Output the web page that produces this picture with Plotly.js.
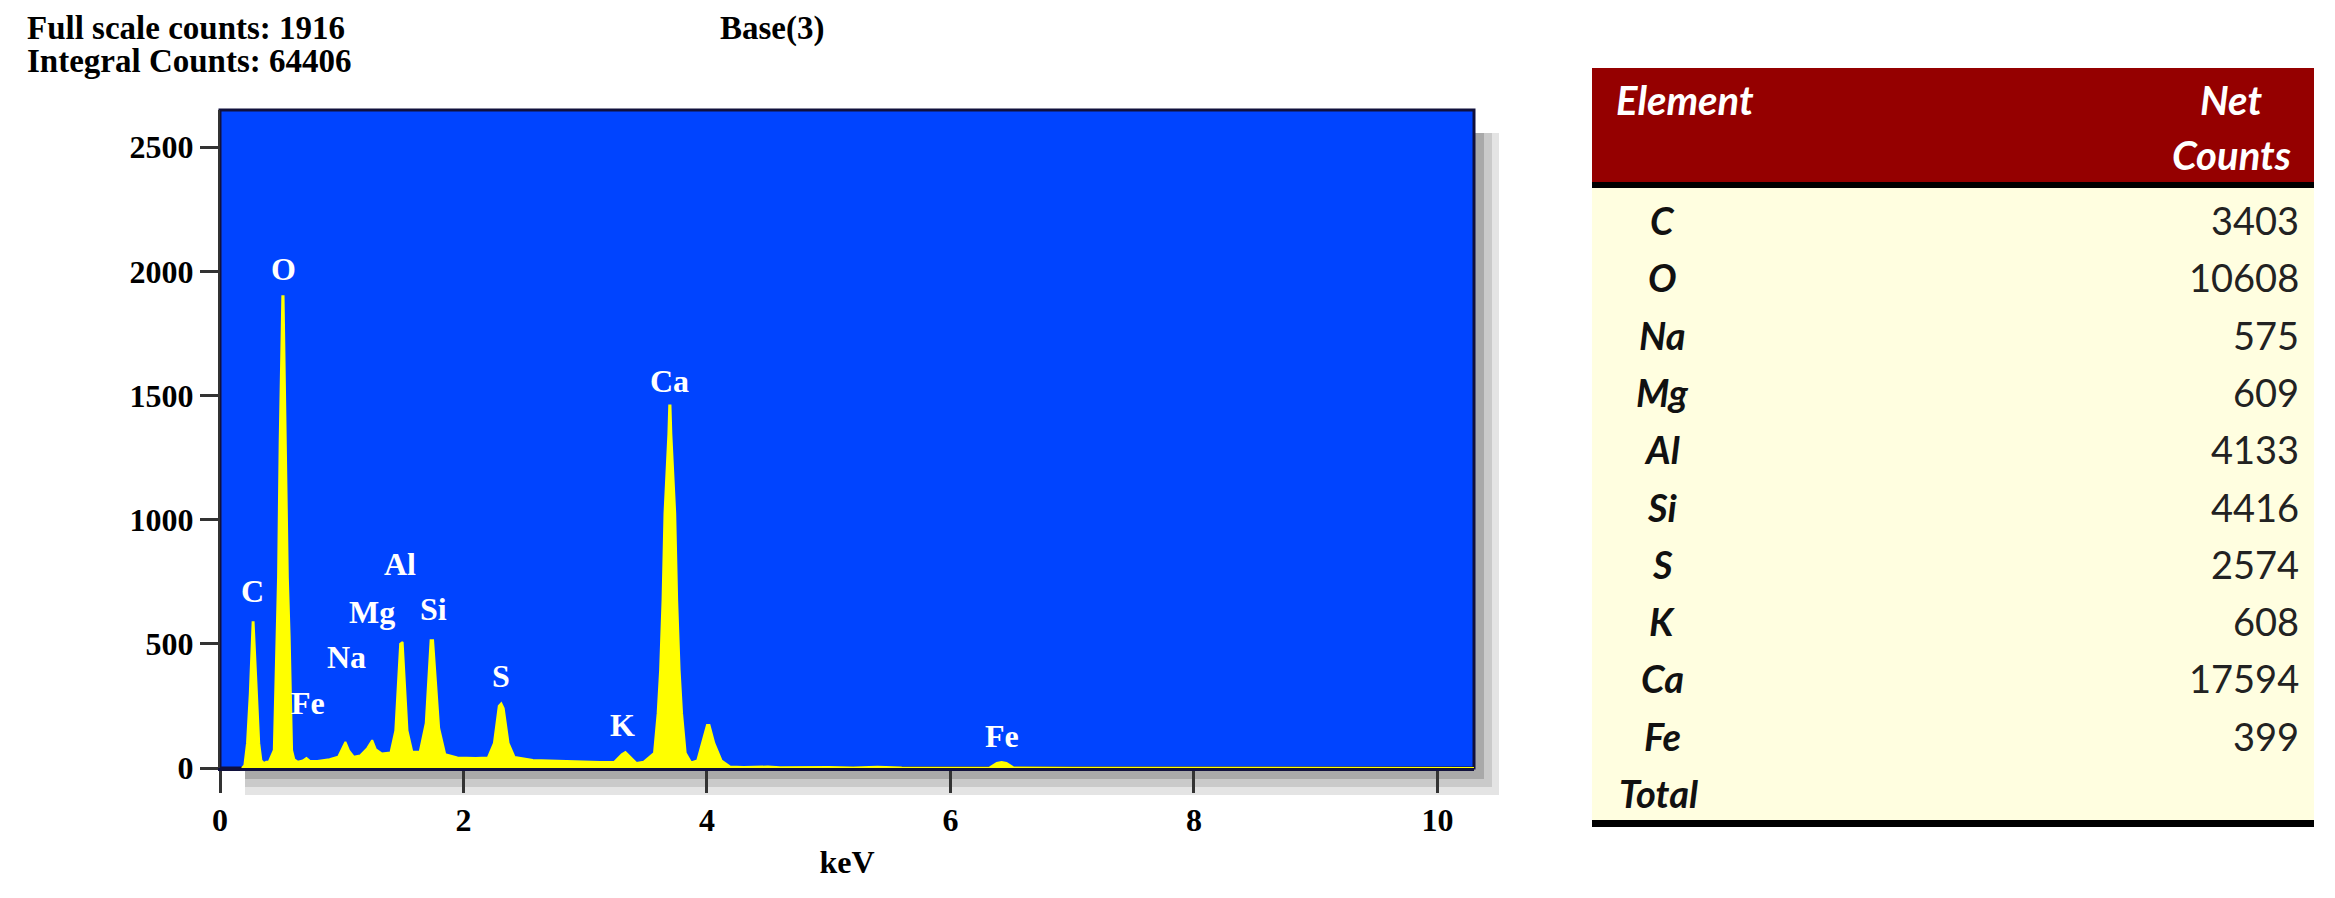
<!DOCTYPE html>
<html>
<head>
<meta charset="utf-8">
<script src="https://cdn.plot.ly/plotly-3.0.1.min.js"></script>
<style>
  html, body { margin: 0; padding: 0; background: #fff; }
  #chart { width: 2335px; height: 898px; }
</style>
</head>
<body>
<div id="chart"></div>
<script>
// spectrum (keV, counts)
const energy = [
  0.18, 0.20, 0.222, 0.245, 0.262, 0.268, 0.276, 0.282, 0.300, 0.322, 0.34, 0.36, 0.38,
  0.40, 0.442, 0.462, 0.477, 0.490, 0.502, 0.512, 0.522, 0.532, 0.545, 0.557, 0.572, 0.592, 0.61,
  0.64, 0.68, 0.71, 0.74, 0.80, 0.90,
  0.97, 1.00, 1.03, 1.06, 1.10,
  1.15, 1.21, 1.25, 1.28, 1.33,
  1.40, 1.44, 1.465, 1.48, 1.50, 1.515, 1.54, 1.58,
  1.64, 1.69, 1.715, 1.73, 1.75, 1.77, 1.80, 1.85, 1.95, 2.10,
  2.20, 2.25, 2.29, 2.31, 2.33, 2.37, 2.42, 2.57, 2.90, 3.12,
  3.24, 3.30, 3.33, 3.36, 3.42,
  3.48, 3.565, 3.595, 3.615, 3.635, 3.651, 3.683, 3.69, 3.70, 3.707, 3.739, 3.755, 3.775, 3.795, 3.825, 3.87,
  3.92, 3.97, 4.00, 4.02, 4.06, 4.12, 4.19,
  4.30, 4.50, 4.60, 4.80, 5.00, 5.20, 5.40, 5.60, 5.80, 6.20,
  6.32, 6.38, 6.42, 6.46, 6.52, 7.00, 10.3
];
const counts = [
  0, 10, 100, 301, 514, 587, 587, 514, 301, 100, 30, 20, 25,
  25, 72, 527, 768, 1306, 1592, 1900, 1900, 1592, 1306, 768, 527, 72, 35,
  25, 30, 40, 28, 28, 35,
  45, 75, 105, 70, 45,
  50, 80, 112, 75, 58,
  62, 150, 350, 500, 507, 350, 150, 65,
  65, 180, 400, 514, 514, 380, 160, 55, 42, 40,
  42, 100, 250, 261, 240, 100, 44, 32, 26, 24,
  25, 55, 64, 50, 20,
  25, 60, 221, 394, 675, 1025, 1346, 1460, 1460, 1346, 1025, 675, 394, 221, 60, 22,
  30, 120, 173, 173, 100, 30, 6,
  4, 6, 3, 5, 4, 2, 5, 2, 1, 1,
  2, 20, 24, 20, 2, 1, 0
];

// peak labels
const peakNames  = ["C", "O", "Fe", "Na", "Mg", "Al", "Si", "S", "K", "Ca", "Fe"];
const peakKeV    = [0.27, 0.52, 0.72, 1.04, 1.25, 1.48, 1.75, 2.31, 3.31, 3.69, 6.42];
const peakLabelY = [711, 2010, 261, 446, 627, 820, 639, 370, 173, 1560, 129];

const xTicks = [0, 2, 4, 6, 8, 10];
const yTicks = [0, 500, 1000, 1500, 2000, 2500];

// table
const elements  = ["C", "O", "Na", "Mg", "Al", "Si", "S", "K", "Ca", "Fe"];
const netCounts = [3403, 10608, 575, 609, 4133, 4416, 2574, 608, 17594, 399];

const W = 2335, H = 898;
const px = (x) => x / W;
const py = (y) => 1 - y / H;

const serif = { family: "Liberation Serif, Times New Roman, serif", size: 32, color: "#000", weight: "bold" };
const sans = "Lato, Carlito, Calibri, sans-serif";

const trace = {
  x: energy,
  y: counts,
  type: "scatter",
  mode: "lines",
  line: { color: "#ffff00", width: 2 },
  fill: "tozeroy",
  fillcolor: "#ffff00",
  hoverinfo: "skip",
};

const annotations = [];

peakNames.forEach((name, i) => {
  annotations.push({
    x: peakKeV[i], y: peakLabelY[i], xref: "x", yref: "y",
    xanchor: "center", yanchor: "middle",
    text: name, showarrow: false,
    font: { ...serif, color: "#ffffff" },
  });
});

// paper text helper (pixel positions, anchored in the middle)
const label = (x, y, text, font, xanchor = "left") => ({
  x: px(x), y: py(y), xref: "paper", yref: "paper",
  xanchor, yanchor: "middle", text, showarrow: false, font,
});

// header texts above plot
annotations.push(
  label(25, 28, "Full scale counts: 1916", { ...serif, size: 33 }),
  label(25, 61, "Integral Counts: 64406", { ...serif, size: 33 }),
  label(718, 28, "Base(3)", { ...serif, size: 33 }),
);

// table texts
const headFont = { family: sans, size: 40, color: "#ffffff", weight: "bold", style: "italic" };
annotations.push(
  label(1614, 100, "Element", headFont),
  label(2231, 100, "Net", headFont, "center"),
  label(2231, 155, "Counts", headFont, "center"),
);

const nameFont = { family: sans, size: 38, color: "#111", weight: "bold", style: "italic" };
const valueFont = { family: sans, size: 38, color: "#222" };
const rowTop = 220, rowStep = 57.3;
elements.forEach((el, i) => {
  const y = rowTop + i * rowStep;
  annotations.push(label(1662, y, el, nameFont, "center"));
  annotations.push(label(2301, y, String(netCounts[i]), valueFont, "right"));
});
annotations.push(label(1617, rowTop + elements.length * rowStep, "Total", nameFont));

const rect = (x0, y0, x1, y1, fill, extra = {}) => ({
  type: "rect", xref: "paper", yref: "paper",
  x0: px(x0), x1: px(x1), y0: py(y1), y1: py(y0),
  fillcolor: fill, line: { width: 0 }, layer: "below", ...extra,
});

const shapes = [
  // drop shadow behind the plot area
  rect(245, 133, 1499, 795, "#e4e4e4"),
  rect(245, 133, 1492, 787, "#cacaca"),
  rect(245, 133, 1484, 779, "#a9a9a9"),
  // plot area
  rect(220, 110, 1474, 768, "#0044ff", { line: { color: "#10103c", width: 3 } }),
  // table
  rect(1592, 68, 2314, 182, "#950000"),
  rect(1592, 182, 2314, 188, "#000000"),
  rect(1592, 188, 2314, 820, "#fffee0"),
  rect(1592, 820, 2314, 827, "#000000"),
];

const layout = {
  width: W,
  height: H,
  margin: { l: 0, r: 0, t: 0, b: 0 },
  paper_bgcolor: "#ffffff",
  plot_bgcolor: "rgba(0,0,0,0)",
  showlegend: false,
  xaxis: {
    domain: [px(220), px(1474)],
    range: [0, 10.3],
    tickvals: xTicks,
    ticks: "outside",
    ticklen: 22,
    tickwidth: 3,
    tickcolor: "#333",
    showline: true,
    linecolor: "#10103c",
    linewidth: 3,
    showgrid: false,
    zeroline: false,
    tickfont: serif,
    automargin: false,
    title: { text: "keV", font: serif, standoff: 14 },
  },
  yaxis: {
    domain: [py(768), py(110)],
    range: [0, 2650],
    tickvals: yTicks,
    ticks: "outside",
    ticklen: 18,
    tickwidth: 3,
    tickcolor: "#333",
    showline: true,
    linecolor: "#333",
    linewidth: 2,
    showgrid: false,
    zeroline: false,
    tickfont: serif,
    automargin: false,
  },
  shapes,
  annotations,
};

Plotly.newPlot("chart", [trace], layout, { displayModeBar: false, staticPlot: true });
</script>
</body>
</html>
